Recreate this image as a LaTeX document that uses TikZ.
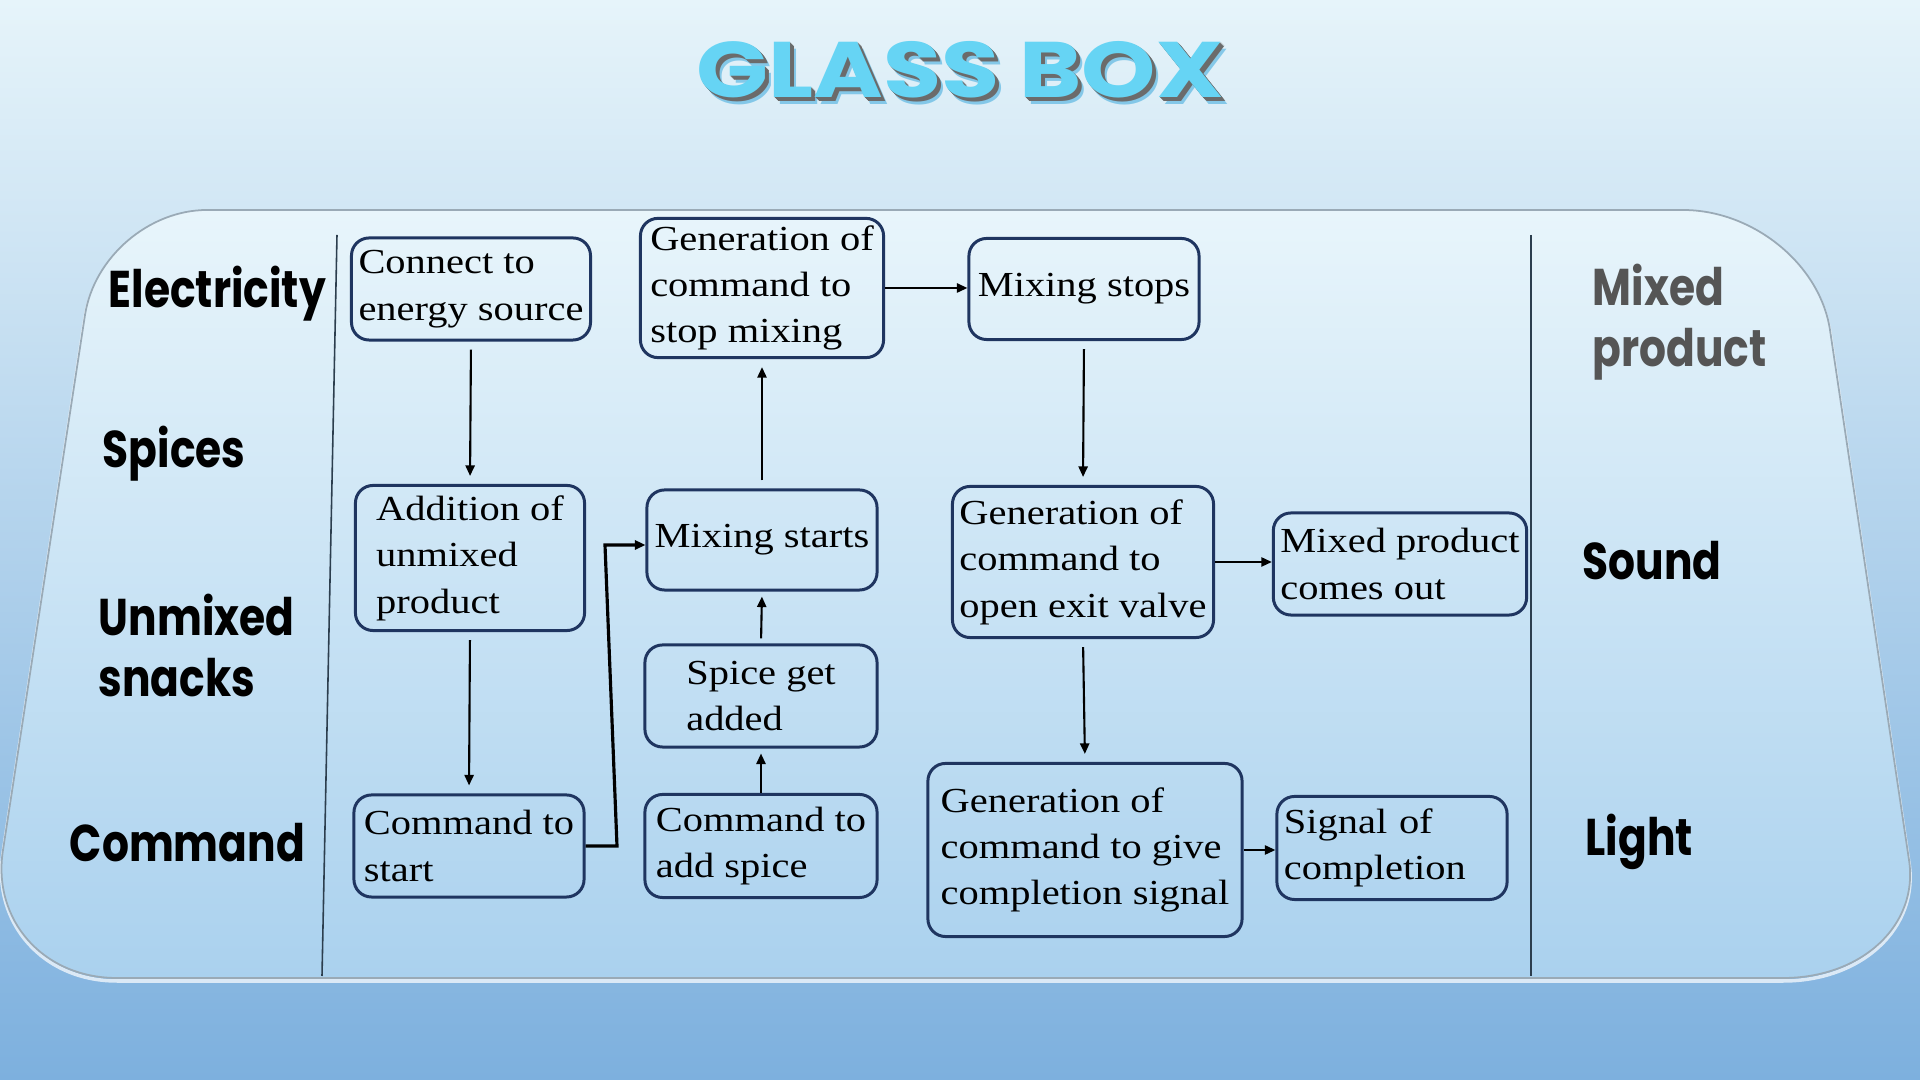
\documentclass[tikz,border=0pt]{standalone}
\usepackage{fontspec}
\usetikzlibrary{arrows.meta}
\setmainfont{Liberation Serif}
\newfontfamily\boxfont[FakeStretch=1.15]{Liberation Serif}
\newfontfamily\labelfont[FakeStretch=0.82]{Poppins}
\newfontfamily\titlefont[FakeStretch=1.2]{Poppins}

\definecolor{boxline}{HTML}{1F3560}
\definecolor{bgtop}{HTML}{E6F4FA}
\definecolor{bgmid}{HTML}{CFE8F5}
\definecolor{bgbot}{HTML}{7DB0DE}
\definecolor{paneltop}{HTML}{E8F5FB}
\definecolor{panelbot}{HTML}{AAD1EE}
\definecolor{panelrim}{HTML}{9AAAB6}
\definecolor{titlecyan}{HTML}{66D4F4}
\definecolor{titlegray}{HTML}{6B6B6B}
\definecolor{titleblue}{HTML}{3AA8DC}
\definecolor{mixgray}{HTML}{555555}
\definecolor{divider}{HTML}{2C3E4E}

% outline of the glass panel, in pixel units
\newcommand\panelpath{(207,210) -- (1683,210) .. controls (1753,210) and (1820,264) .. (1830,330)
  -- (1909,860) .. controls (1919,925) and (1862,978) .. (1783,978) -- (117,978)
  .. controls (43,978) and (-8,920) .. (3,850) -- (85,315)
  .. controls (94,257) and (149,210) .. (207,210) -- cycle}

\begin{document}
\begin{tikzpicture}[x=0.01cm,y=-0.01cm,
  stepbox/.style={draw=boxline,line width=0.85pt,rounded corners=5pt,align=left,
    inner sep=2pt,font=\boxfont\fontsize{10}{13.2}\selectfont},
  sidelabel/.style={anchor=base west,align=left,inner sep=0pt,
    font=\labelfont\bfseries\fontsize{14.7}{17.6}\selectfont},
  titletext/.style={inner sep=0pt,font=\titlefont\bfseries\fontsize{22.4}{26}\selectfont},
  arr/.style={-{Triangle[length=3pt,width=2.6pt]},line width=0.6pt},
  gap/.style={shorten <=0.08cm,shorten >=0.08cm}]

% background
\shade[top color=bgtop,middle color=bgmid,bottom color=bgbot,use as bounding box]
  (0,0) rectangle (1920,1080);

% title
\node[titletext,text=titleblue,opacity=0.55] (titleglow) at (966,77) {GLASS BOX};
\foreach \d in {4,3,2,1}
  \node[titletext,text=titlegray] (titleside\d) at (960+\d,70+\d) {GLASS BOX};
\node[titletext,text=titlecyan] (title) at (960,70) {GLASS BOX};

% panel
\draw[white,opacity=0.7,line width=1pt,yshift=-0.03cm] \panelpath;
\shade[top color=paneltop,bottom color=panelbot,draw=panelrim,line width=0.5pt] \panelpath;
\draw[divider,line width=0.45pt] (337,235) -- (322,976);
\draw[divider,line width=0.45pt] (1531,235) -- (1531,976);

% inputs and outputs
\node[sidelabel] (electricity) at (108,308) {Electricity};
\node[sidelabel] (spices) at (102,468) {Spices};
\node[sidelabel] (snacks) at (98,697) {Unmixed\\snacks};
\node[sidelabel] (command) at (69,862) {Command};
\node[sidelabel,text=mixgray] (mixed) at (1592,367) {Mixed\\product};
\node[sidelabel] (sound) at (1582,580) {Sound};
\node[sidelabel] (light) at (1585,856) {Light};

% steps
\node[stepbox,minimum width=2.31cm,minimum height=1.02cm] (energy) at (471,289) {Connect to\\energy source};
\node[stepbox,minimum width=2.43cm,minimum height=1.36cm] (stopcmd) at (762,288) {Generation of\\command to\\stop mixing};
\node[stepbox,minimum width=2.30cm,minimum height=1.01cm] (mixstop) at (1084,289) {Mixing stops};
\node[stepbox,minimum width=2.29cm,minimum height=1.45cm] (addition) at (470,558) {Addition of\\unmixed\\product};
\node[stepbox,minimum width=2.30cm,minimum height=1.00cm] (mixstart) at (762,540) {Mixing starts};
\node[stepbox,minimum width=2.53cm,minimum height=1.51cm] (opencmd) at (1083,562) {Generation of\\command to\\open exit valve};
\node[stepbox,minimum width=2.49cm,minimum height=1.02cm] (outflow) at (1400,564) {Mixed product\\comes out};
\node[stepbox,minimum width=2.32cm,minimum height=1.02cm] (spice) at (761,696) {Spice get\\added};
\node[stepbox,minimum width=2.30cm,minimum height=1.02cm] (cmdstart) at (469,846) {Command to\\start};
\node[stepbox,minimum width=2.32cm,minimum height=1.03cm] (cmdspice) at (761,846) {Command to\\add spice};
\node[stepbox,minimum width=3.14cm,minimum height=1.73cm] (signalcmd) at (1085,850) {Generation of\\command to give\\completion signal};
\node[stepbox,minimum width=2.30cm,minimum height=1.03cm,text width=2.16cm] (signal) at (1392,848) {Signal of\\completion};

% flow
\coordinate (bendlow) at (617,846);
\coordinate (bendhigh) at (605,545);
\draw[arr,gap] (energy.south) -- (addition.north);
\draw[arr,gap] (addition.south) -- (cmdstart.north);
\draw[arr,line width=0.9pt] (cmdstart.east) -- (bendlow) -- (bendhigh) -- (bendhigh -| mixstart.west);
\draw[arr,shorten >=0.05cm] (cmdspice.north) -- (spice.south);
\draw[arr,shorten <=0.05cm,shorten >=0.05cm] (spice.north) -- (mixstart.south);
\draw[arr,gap] (mixstart.north) -- (stopcmd.south);
\draw[arr] (stopcmd.east) -- (stopcmd.east -| mixstop.west);
\draw[arr,gap] (mixstop.south) -- (opencmd.north);
\draw[arr] (opencmd.east) -- (opencmd.east -| outflow.west);
\draw[arr,gap] (opencmd.south) -- (signalcmd.north);
\draw[arr] (signalcmd.east) -- (signalcmd.east -| signal.west);
\end{tikzpicture}
\end{document}
